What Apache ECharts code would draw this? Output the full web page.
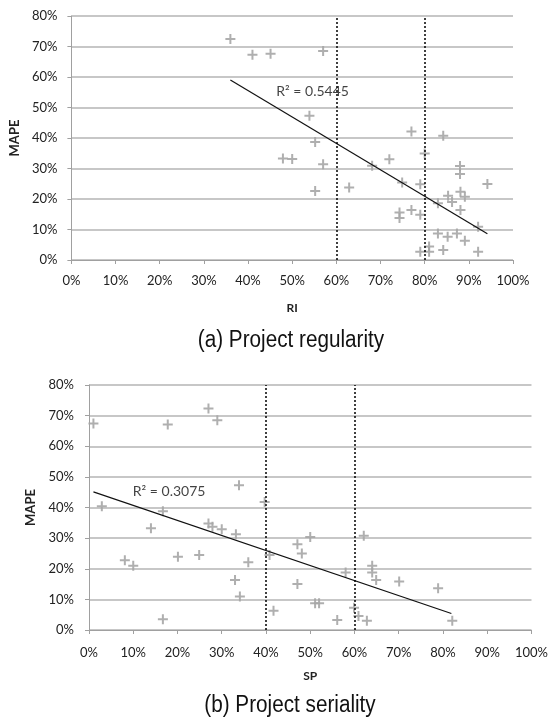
<!DOCTYPE html>
<html><head><meta charset="utf-8">
<script src="https://cdn.jsdelivr.net/npm/echarts@6/dist/echarts.min.js"></script>
<style>html,body{margin:0;padding:0;background:#fff;}#c{width:551px;height:720px;}</style>
</head><body><div id="c"></div>
<script>
// (a) Project regularity: [RI %, MAPE %]
const regularityPoints = [
  [36.0,72.5],[41.0,67.3],[45.1,67.6],[57.0,68.5],[53.9,47.3],[55.2,38.7],[47.9,33.3],[50.0,33.1],
  [57.0,31.4],[68.1,30.9],[55.2,22.6],[62.9,23.8],[77.0,42.1],[84.2,40.7],[80.0,34.9],[72.0,33.0],
  [88.0,30.8],[88.0,28.2],[94.2,24.9],[74.9,25.4],[79.0,24.8],[85.3,21.1],[88.1,22.4],[89.1,20.7],
  [86.2,19.0],[83.0,18.6],[88.1,16.4],[74.3,15.6],[74.3,13.8],[77.0,16.4],[79.0,14.8],[83.0,8.7],
  [85.2,7.6],[87.3,8.7],[89.1,6.3],[92.1,10.9],[79.0,2.7],[81.0,4.4],[81.0,2.7],[84.2,3.3],[92.1,2.7]
];
const regularityTrend = [[36.0,59.0],[94.2,8.6]];
const regularityR2 = 'R² = 0.5445';
const regularityR2Pos = [46.4,55.2];
const regularityCuts = [60, 80];

// (b) Project seriality: [SP %, MAPE %]
const serialityPoints = [
  [1.0,67.4],[17.8,67.1],[27.0,72.3],[29.0,68.5],[2.9,40.4],[33.9,47.3],[16.7,38.8],[14.0,33.2],
  [27.0,34.8],[27.9,33.7],[30.0,32.9],[33.2,31.3],[8.1,22.8],[10.0,21.0],[20.1,23.9],[24.9,24.5],
  [36.0,22.1],[33.0,16.3],[34.1,10.9],[16.7,3.5],[39.7,41.8],[40.8,24.5],[41.7,6.3],[50.0,30.4],
  [47.1,28.0],[48.1,25.0],[47.1,15.0],[51.1,8.7],[52.0,8.7],[56.1,3.3],[58.0,18.8],[59.9,7.3],
  [60.9,4.6],[62.8,3.0],[62.1,30.8],[64.0,21.0],[64.0,18.8],[64.9,16.3],[70.1,15.8],[78.9,13.6],[82.1,3.0]
];
const serialityTrend = [[1.0,45.1],[81.9,5.4]];
const serialityR2 = 'R² = 0.3075';
const serialityR2Pos = [9.9,45.1];
const serialityCuts = [40, 60];

const xTicks = {min:0, max:100, interval:10};
const yTicks = {min:0, max:80, interval:10};
const xAxisNames = ['RI','SP'];
const yAxisName = 'MAPE';
const captions = ['(a) Project regularity','(b) Project seriality'];

const FONT = 'Lato';
const plus = 'path://M4,0H6V4H10V6H6V10H4V6H0V4H4Z';

function xAxis(idx, name, gap, margin){
  return {type:'value', gridIndex:idx, min:xTicks.min, max:xTicks.max, interval:xTicks.interval,
    name:name, nameLocation:'middle', nameGap:gap,
    nameTextStyle:{fontFamily:FONT, fontWeight:'bold', fontSize:12, color:'#222'},
    axisLine:{show:true, lineStyle:{color:'#a0a0a0', width:1}},
    axisTick:{show:true, length:4, lineStyle:{color:'#a0a0a0'}},
    axisLabel:{formatter:v=>v+'%', fontFamily:FONT, fontSize:13, color:'#222', margin:margin},
    splitLine:{show:false}};
}
function yAxis(idx, gap, margin){
  return {type:'value', gridIndex:idx, min:yTicks.min, max:yTicks.max, interval:yTicks.interval,
    name:yAxisName, nameLocation:'middle', nameGap:gap,
    nameTextStyle:{fontFamily:FONT, fontWeight:'bold', fontSize:13, color:'#222'},
    axisLine:{show:true, lineStyle:{color:'#a0a0a0', width:1}},
    axisTick:{show:true, length:4, lineStyle:{color:'#a0a0a0'}},
    axisLabel:{formatter:v=>v+'%', fontFamily:FONT, fontSize:13, color:'#222', margin:margin},
    splitLine:{show:true, lineStyle:{color:'#b4b4b4', width:1.5}}};
}
function seriesFor(idx, pts, trend, r2, r2Pos, cuts){
  return [
    {type:'scatter', xAxisIndex:idx, yAxisIndex:idx, data:pts, symbol:plus, symbolSize:10,
      itemStyle:{color:'#a6a6a6', opacity:0.9}, silent:true, z:3},
    {type:'line', xAxisIndex:idx, yAxisIndex:idx, data:trend, symbol:'none',
      lineStyle:{color:'#111', width:1.2}, silent:true, z:4,
      markLine:{silent:true, symbol:'none', label:{show:false},
        lineStyle:{color:'#000', type:[2,2], width:1.5},
        data:cuts.map(c=>({xAxis:c}))}},
    {type:'scatter', xAxisIndex:idx, yAxisIndex:idx, data:[r2Pos], symbolSize:0, silent:true, z:5,
      label:{show:true, position:'right', distance:0, formatter:r2, fontFamily:FONT, fontSize:14, color:'#111'}}
  ];
}

const chart = echarts.init(document.getElementById('c'), null, {renderer:'canvas'});
chart.setOption({
  animation:false,
  backgroundColor:'#fff',
  grid:[
    {left:66, right:38, top:16, height:244},
    {left:89, right:16, top:385, height:245}
  ],
  xAxis:[xAxis(0, xAxisNames[0], 42, 14), xAxis(1, xAxisNames[1], 40, 16)],
  yAxis:[yAxis(0, 48, 14), yAxis(1, 47, 15)],
  series:[].concat(
    seriesFor(0, regularityPoints, regularityTrend, regularityR2, regularityR2Pos, regularityCuts),
    seriesFor(1, serialityPoints, serialityTrend, serialityR2, serialityR2Pos, serialityCuts)
  ),
  graphic:[
    {type:'text', x:291, y:341, scaleX:0.9, style:{text:captions[0], fontFamily:'Liberation Sans', fontSize:23, fill:'#111', align:'center', verticalAlign:'middle'}},
    {type:'text', x:290, y:706, scaleX:0.9, style:{text:captions[1], fontFamily:'Liberation Sans', fontSize:23, fill:'#111', align:'center', verticalAlign:'middle'}}
  ]
});
</script></body></html>
